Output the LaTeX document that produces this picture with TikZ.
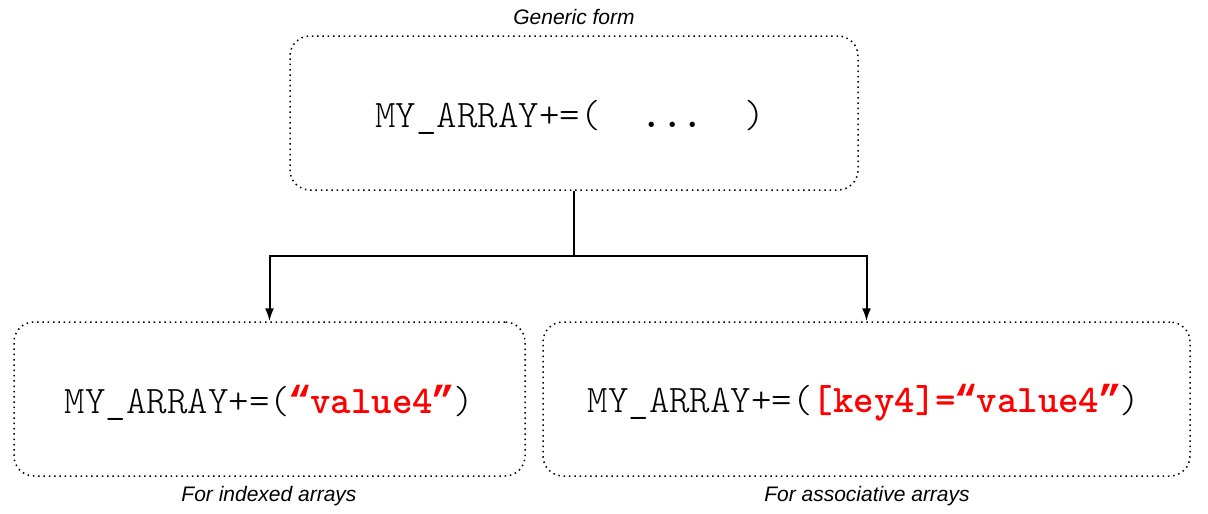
\documentclass[tikz,border=0pt]{standalone}
\usepackage{fontspec}
\setmainfont{Liberation Sans}
\setsansfont{Liberation Sans}
\setmonofont{lmmonolt10-regular.otf}[BoldFont=lmmonolt10-bold.otf]
\newfontfamily\quotefont{Liberation Mono}
\usetikzlibrary{arrows.meta}
\definecolor{codered}{RGB}{255,0,0}
\tikzset{
  codebox/.style={draw, line width=1.5pt, dash pattern=on 1.5pt off 3.8pt,
    rounded corners=20pt, inner sep=0pt},
  codetext/.style={inner sep=0pt, font=\fontsize{39}{44}\selectfont\ttfamily},
  caption/.style={font=\fontsize{21}{25}\selectfont\sffamily\itshape, inner sep=0pt},
  conn/.style={line width=2pt, -{Latex[length=13pt,width=9pt]}}
}
\newcommand{\redcode}[1]{\textcolor{codered}{\bfseries #1}}
\newcommand{\myopenq}{\makebox[0.525em]{\quotefont\bfseries “}}
\newcommand{\mycloseq}{\makebox[0.525em]{\quotefont\bfseries ”}}
\begin{document}
\begin{tikzpicture}[x=1pt,y=-1pt]
\useasboundingbox (0,0) rectangle (1208,514);
\node[codebox, minimum width=568pt, minimum height=154pt] (top) at (574,113) {};
\node[codebox, minimum width=511pt, minimum height=154pt] (left) at (269.5,399) {};
\node[codebox, minimum width=647pt, minimum height=154pt] (right) at (866.5,399) {};
\node[codetext] (ttop) at (570,117) {MY\_ARRAY+=(\ \ \textbf{...}\ \ )};
\node[codetext] (tleft) at (269.5,403) {MY\_ARRAY+=(\redcode{\myopenq value4\mycloseq})};
\node[codetext] (tright) at (864,403) {MY\_ARRAY+=(\redcode{[key4]=\myopenq value4\mycloseq})};
\node[caption] (gcap) at (574,17) {Generic form};
\node[caption] (lcap) at (269,496) {For indexed arrays};
\node[caption] (rcap) at (867,496) {For associative arrays};
\coordinate (split) at (574,256);
\draw[conn] (top.south) -- (split) -| (left.north);
\draw[conn] (split) -| (right.north);
\end{tikzpicture}
\end{document}
